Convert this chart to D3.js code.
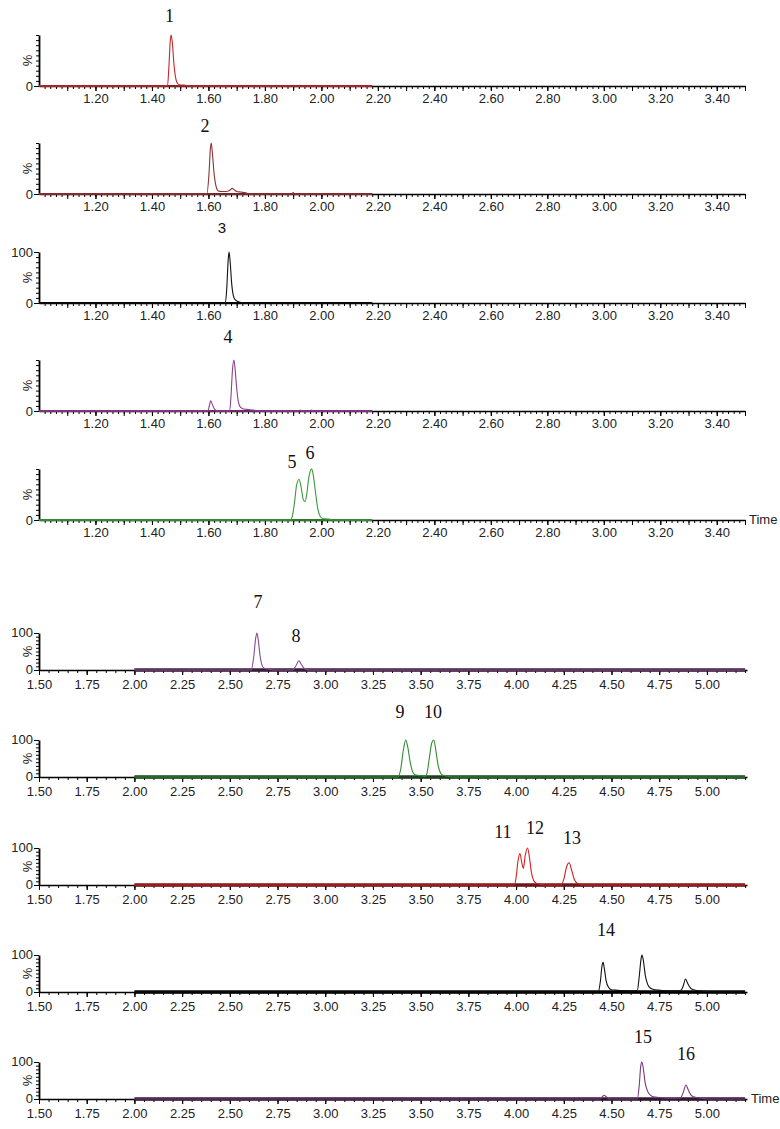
<!DOCTYPE html>
<html>
<head>
<meta charset="utf-8">
<script src="https://cdn.jsdelivr.net/npm/d3@7"></script>
<style>
  body { margin: 0; background: #fff; }
  svg { display: block; }
  .axis text { font-family: Arial, "Liberation Sans", sans-serif; font-size: 13px; fill: #222; }
  .axis path, .axis line { stroke: #000; }
  .peak-label { font-family: "Liberation Serif", "Times New Roman", serif; font-size: 18px; fill: #111; text-anchor: middle; }
</style>
</head>
<body>
<svg id="chart"></svg>
<script>
// ---- data: [time (min), intensity (%)] ----
const trace1 = [[1.00,0],[1.455,0],[1.460,38],[1.465,90],[1.468,100],[1.472,86],[1.478,42],[1.485,13],[1.492,4],[1.500,2],[1.512,2],[1.522,1],[1.530,0],[2.18,0]];
const trace2 = [[1.00,0],[1.594,0],[1.602,40],[1.607,90],[1.610,100],[1.614,80],[1.620,40],[1.627,15],[1.635,6],[1.645,5],[1.660,5],[1.675,7],[1.684,11],[1.692,8],[1.700,5],[1.712,4],[1.725,3],[1.735,2],[1.745,0],[1.895,0],[1.900,3],[1.905,0],[2.18,0]];
const trace3 = [[1.00,0],[1.660,0],[1.665,30],[1.670,85],[1.673,100],[1.677,80],[1.682,40],[1.688,15],[1.695,6],[1.705,3],[1.715,1],[1.722,0],[2.18,0]];
const trace4 = [[1.00,0],[1.598,0],[1.603,10],[1.608,20],[1.613,14],[1.620,5],[1.628,1],[1.635,0],[1.675,0],[1.680,30],[1.685,80],[1.690,100],[1.694,85],[1.700,45],[1.706,18],[1.714,7],[1.725,4],[1.740,3],[1.760,2],[1.780,0],[1.920,0],[1.925,2],[1.930,0],[1.960,0],[1.965,2],[1.970,0],[2.18,0]];
const trace5 = [[1.00,0],[1.890,0],[1.898,10],[1.905,35],[1.912,68],[1.921,80],[1.928,65],[1.936,40],[1.942,36],[1.948,50],[1.955,82],[1.962,98],[1.966,100],[1.972,85],[1.980,50],[1.988,20],[1.996,7],[2.005,3],[2.020,2],[2.035,1],[2.040,0],[2.18,0]];

const trace7 = [[2.00,0],[2.612,0],[2.625,35],[2.636,88],[2.642,100],[2.648,85],[2.658,40],[2.668,14],[2.680,5],[2.695,3],[2.710,2],[2.720,0],[2.830,0],[2.845,10],[2.862,25],[2.875,15],[2.890,4],[2.905,1],[2.920,0],[5.20,0]];
const trace9 = [[2.00,0],[3.380,0],[3.395,20],[3.410,75],[3.422,100],[3.432,82],[3.445,40],[3.458,14],[3.470,6],[3.490,4],[3.510,3],[3.525,2],[3.532,8],[3.545,50],[3.558,92],[3.569,100],[3.580,70],[3.592,30],[3.605,10],[3.620,4],[3.640,2],[3.660,0],[5.20,0]];
const trace11 = [[2.00,0],[3.990,0],[4.000,20],[4.010,65],[4.020,85],[4.030,60],[4.038,45],[4.048,80],[4.060,100],[4.070,75],[4.080,35],[4.092,12],[4.105,5],[4.120,3],[4.140,1],[4.150,0],[4.235,0],[4.250,15],[4.265,50],[4.278,60],[4.290,42],[4.305,15],[4.320,5],[4.340,2],[4.360,0],[5.20,0]];
const trace14 = [[2.00,0],[4.430,0],[4.442,30],[4.450,70],[4.456,80],[4.462,65],[4.472,30],[4.485,12],[4.500,6],[4.520,5],[4.550,4],[4.600,3],[4.635,4],[4.645,40],[4.655,90],[4.660,100],[4.667,85],[4.677,45],[4.690,20],[4.705,10],[4.720,7],[4.750,5],[4.800,3],[4.860,3],[4.875,15],[4.888,35],[4.900,22],[4.915,10],[4.930,6],[4.960,3],[5.000,1],[5.020,0],[5.20,0]];
const trace15 = [[2.00,0],[4.440,0],[4.452,6],[4.462,10],[4.472,6],[4.485,1],[4.495,0],[4.635,0],[4.645,35],[4.653,88],[4.659,100],[4.666,85],[4.676,45],[4.690,20],[4.705,10],[4.720,6],[4.750,4],[4.780,2],[4.860,2],[4.876,18],[4.890,38],[4.902,25],[4.915,12],[4.930,6],[4.960,3],[4.990,1],[5.010,0],[5.20,0]];

// peak numbers: [text, time, height in %]
const labels1 = [["1",1.462,125]];
const labels2 = [["2",1.588,122]];
const labels3 = [["3",1.648,137]];
const labels4 = [["4",1.669,133]];
const labels5 = [["5",1.896,102],["6",1.960,120]];
const labels7 = [["7",2.647,168],["8",2.847,76]];
const labels9 = [["9",3.392,159],["10",3.564,159]];
const labels11 = [["11",3.931,127],["12",4.099,138],["13",4.293,111]];
const labels14 = [["14",4.471,151]];
const labels15 = [["15",4.665,151],["16",4.890,105]];

const topTickLabels = ["1.20","1.40","1.60","1.80","2.00","2.20","2.40","2.60","2.80","3.00","3.20","3.40"];
const bottomTickLabels = ["1.50","1.75","2.00","2.25","2.50","2.75","3.00","3.25","3.50","3.75","4.00","4.25","4.50","4.75","5.00"];

const W = 780, H = 1129;
const svg = d3.select("#chart").attr("width", W).attr("height", H);

const xTop = d3.scaleLinear([1.0, 3.5], [39, 745]);
const xBot = d3.scaleLinear([1.5, 5.21], [39, 747]);

const topMinor = d3.range(1.02, 3.501, 0.02);
const topMid = d3.range(1.1, 3.501, 0.1);
const botMinor = d3.range(1.55, 5.201, 0.05);
const botMid = d3.range(1.75, 5.01, 0.25);

const panels = [
  {base: 86,  h: 51, x: xTop, data: trace1, labels: labels1, color: "#c62a2f", baseColor: "#8a2020", baseW: 2, show100: false, time: false},
  {base: 194, h: 51, x: xTop, data: trace2, labels: labels2, color: "#8f3333", baseColor: "#7a2424", baseW: 2, show100: false, time: false},
  {base: 303, h: 51, x: xTop, data: trace3, labels: labels3, color: "#111", baseColor: "#000", baseW: 2, show100: true, time: false, sans: true},
  {base: 411, h: 51, x: xTop, data: trace4, labels: labels4, color: "#8e3f8e", baseColor: "#6a2a6a", baseW: 2, show100: false, time: false},
  {base: 520, h: 51, x: xTop, data: trace5, labels: labels5, color: "#3a9a3a", baseColor: "#2a7a2a", baseW: 2, show100: false, time: true},
  {base: 670, h: 37, x: xBot, data: trace7, labels: labels7, color: "#8b4c8b", baseColor: "#3a1f3a", baseW: 3.4, show100: true, time: false},
  {base: 777, h: 37, x: xBot, data: trace9, labels: labels9, color: "#2f8f2f", baseColor: "#1f3f1f", baseW: 3.4, show100: true, time: false},
  {base: 885, h: 37, x: xBot, data: trace11, labels: labels11, color: "#d42020", baseColor: "#6a1818", baseW: 3.4, show100: true, time: false},
  {base: 992, h: 37, x: xBot, data: trace14, labels: labels14, color: "#111", baseColor: "#000", baseW: 3.4, show100: true, time: false},
  {base: 1099, h: 37, x: xBot, data: trace15, labels: labels15, color: "#7a3a7a", baseColor: "#2f1a2f", baseW: 3.4, show100: true, time: true}
];

panels.forEach(p => {
  const g = svg.append("g").attr("transform", `translate(0,${p.base - p.h})`);
  const y = d3.scaleLinear([0, 100], [p.h, 0]);
  const isTop = p.x === xTop;

  // x axis: minor ticks, mid ticks, labelled ticks
  const xg = g.append("g").attr("class", "axis").attr("transform", `translate(0,${p.h})`);
  xg.append("g").call(d3.axisBottom(p.x).tickValues(isTop ? topMinor : botMinor).tickSize(3).tickSizeOuter(0).tickFormat(""))
    .call(a => a.select(".domain").attr("stroke-width", 1.7));
  xg.append("g").call(d3.axisBottom(p.x).tickValues(isTop ? topMid : botMid).tickSize(5).tickSizeOuter(0).tickFormat(""))
    .call(a => a.select(".domain").remove());
  const lab = isTop ? topTickLabels : bottomTickLabels;
  xg.append("g").call(d3.axisBottom(p.x).tickValues(lab.map(Number)).tickSize(5).tickPadding(isTop ? 3 : 5).tickSizeOuter(0).tickFormat((d, i) => lab[i]))
    .call(a => a.select(".domain").remove())
    .call(a => a.selectAll("text").attr("fill", "#333"));

  // y axis
  const yg = g.append("g").attr("class", "axis").attr("transform", `translate(${p.x.range()[0]},0)`);
  yg.append("g").call(d3.axisLeft(y).tickValues(d3.range(0, 101, 10)).tickSize(3).tickSizeOuter(0).tickFormat(""))
    .call(a => a.select(".domain").attr("stroke-width", 1.8));
  const yLab = p.show100 ? [0, 100] : [0];
  yg.append("g").call(d3.axisLeft(y).tickValues(yLab).tickSize(5).tickPadding(1).tickSizeOuter(0))
    .call(a => a.select(".domain").remove())
    .call(a => a.selectAll("text").attr("dy", isTop ? "0.32em" : "0.28em"));
  yg.append("text")
    .attr("transform", `translate(-6,${y(50)}) rotate(-90)`)
    .attr("text-anchor", "middle").attr("dy", "-0.1em")
    .text("%");

  // noisy baseline of the trace
  const t0 = p.data[0][0], t1 = p.data[p.data.length - 1][0];
  g.append("line")
    .attr("x1", p.x(t0)).attr("x2", p.x(t1))
    .attr("y1", y(0)).attr("y2", y(0))
    .attr("stroke", p.baseColor).attr("stroke-width", p.baseW);

  // trace
  const line = d3.line().x(d => p.x(d[0])).y(d => y(d[1])).curve(d3.curveMonotoneX);
  g.append("path").datum(p.data)
    .attr("d", line).attr("fill", "none")
    .attr("stroke", p.color).attr("stroke-width", 1.1);

  // peak numbers
  g.selectAll(".peak-label").data(p.labels).join("text")
    .attr("class", "peak-label")
    .style("font-family", p.sans ? "Arial, 'Liberation Sans', sans-serif" : null)
    .style("font-size", p.sans ? "15px" : null)
    .attr("x", d => p.x(d[1]))
    .attr("y", d => y(d[2]))
    .text(d => d[0]);

  if (p.time) {
    g.append("text")
      .attr("x", p.x.range()[1] + 4).attr("y", p.h + 4)
      .style("font-family", "Arial, 'Liberation Sans', sans-serif")
      .style("font-size", "13px").attr("fill", "#222")
      .text("Time");
  }
});
</script>
</body>
</html>
